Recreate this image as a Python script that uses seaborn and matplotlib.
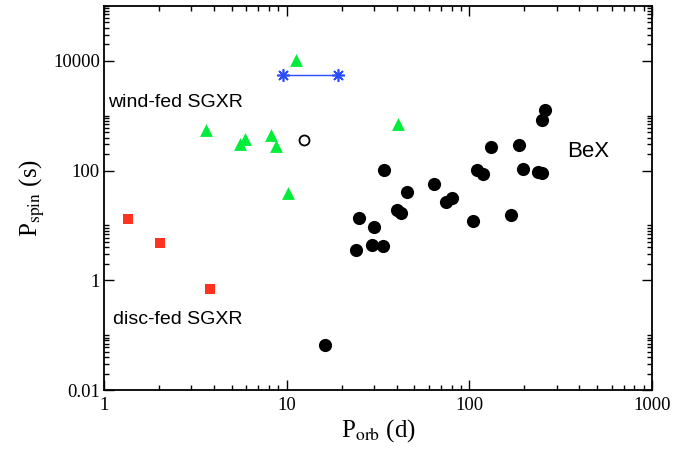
import numpy as np
import pandas as pd
import matplotlib
matplotlib.use("Agg")
import matplotlib.pyplot as plt
import seaborn as sns
from matplotlib.ticker import LogLocator, FixedLocator, NullFormatter, FixedFormatter

# ---- data ----
bex_porb = [259, 249, 131, 187, 110, 119, 197, 238, 250, 34.1, 64.3, 45.4, 74.5, 80,
            40, 42.1, 105, 168, 25, 30.2, 23.9, 29.2, 33.8, 16.3]
bex_pspin = [1285, 822, 270, 288, 104, 88, 109, 95, 91, 103, 58, 41.5, 26.5, 31.9,
             19, 17, 12, 15.4, 13.6, 9.2, 3.5, 4.4, 4.3, 0.067]

wind_porb = [11.3, 3.6, 5.55, 5.94, 8.17, 8.74, 10.2, 40.8]
wind_pspin = [10400, 556, 310, 377, 451, 285, 39.3, 716]

disc_porb = [1.35, 2.03, 3.8]
disc_pspin = [13.2, 4.84, 0.686]

open_porb = [12.4]
open_pspin = [356]

range_porb = [9.5, 19]
range_pspin = [5600, 5600]

y_major = [0.01, 1, 100, 10000]
y_major_labels = ["0.01", "1", "100", "10000"]
x_major = [1, 10, 100, 1000]
x_major_labels = ["1", "10", "100", "1000"]

sns.set_style("ticks")
plt.rcParams["font.family"] = ["Liberation Serif", "DejaVu Serif"]
plt.rcParams["mathtext.fontset"] = "stix"
plt.rcParams["text.color"] = "black"
plt.rcParams["axes.labelcolor"] = "black"
plt.rcParams["xtick.color"] = "black"
plt.rcParams["ytick.color"] = "black"

fig = plt.figure(figsize=(6.73, 4.5), dpi=100)
ax = fig.add_axes([0.1545, 0.1333, 0.8145, 0.8534])

bex = pd.DataFrame({"Porb": bex_porb, "Pspin": bex_pspin})
wind = pd.DataFrame({"Porb": wind_porb, "Pspin": wind_pspin})
disc = pd.DataFrame({"Porb": disc_porb, "Pspin": disc_pspin})
opn = pd.DataFrame({"Porb": open_porb, "Pspin": open_pspin})
rng = pd.DataFrame({"Porb": range_porb, "Pspin": range_pspin})

sns.lineplot(data=rng, x="Porb", y="Pspin", ax=ax, color="#2a4cff", lw=1.0,
             marker=(8, 2, 0), markersize=9, markeredgewidth=1.2,
             markeredgecolor="#2a4cff", estimator=None, sort=False)
sns.scatterplot(data=bex, x="Porb", y="Pspin", ax=ax, color="black", s=90,
                marker="o", edgecolor="black", linewidth=0)
sns.scatterplot(data=wind, x="Porb", y="Pspin", ax=ax, color="#00ee3a", s=85,
                marker="^", linewidth=0)
sns.scatterplot(data=disc, x="Porb", y="Pspin", ax=ax, color="#ff3222", s=55,
                marker="s", linewidth=0)
sns.scatterplot(data=opn, x="Porb", y="Pspin", ax=ax, facecolor="white", s=52,
                marker="o", edgecolor="black", linewidth=1.3)

ax.set_xscale("log")
ax.set_yscale("log")
ax.set_xlim(1, 1000)
ax.set_ylim(0.01, 1e5)

ax.xaxis.set_major_locator(FixedLocator(x_major))
ax.xaxis.set_major_formatter(FixedFormatter(x_major_labels))
ax.xaxis.set_minor_locator(LogLocator(base=10, subs=np.arange(2, 10), numticks=50))
ax.xaxis.set_minor_formatter(NullFormatter())

ymin = [k * 10.0 ** d for d in (-2, 0, 2, 4) for k in range(2, 11)]
ax.yaxis.set_major_locator(FixedLocator(y_major))
ax.yaxis.set_major_formatter(FixedFormatter(y_major_labels))
ax.yaxis.set_minor_locator(FixedLocator(ymin))
ax.yaxis.set_minor_formatter(NullFormatter())

ax.tick_params(which="both", direction="in", top=True, right=True,
               labelsize=13.5, width=1.0, colors="black")
ax.tick_params(which="major", length=7)
ax.tick_params(which="minor", length=3.5)
ax.tick_params(axis="x", pad=5)
ax.tick_params(axis="y", pad=3)
for s in ax.spines.values():
    s.set_linewidth(1.3)
    s.set_color("black")

ax.set_xlabel(r"P$_{\mathrm{orb}}$ (d)", fontsize=18, labelpad=2, color="black")
ax.set_ylabel(r"P$_{\mathrm{spin}}$ (s)", fontsize=18, labelpad=4, color="black")

sans = ["Liberation Sans", "DejaVu Sans"]
ax.text(1.05, 1722, "wind-fed SGXR", family=sans, fontsize=14, va="center", ha="left", color="black")
ax.text(1.12, 0.195, "disc-fed SGXR", family=sans, fontsize=14, va="center", ha="left", color="black")
ax.text(342, 221, "BeX", family=sans, fontsize=16, va="center", ha="left", color="black")

fig.savefig("out.png", dpi=100)
